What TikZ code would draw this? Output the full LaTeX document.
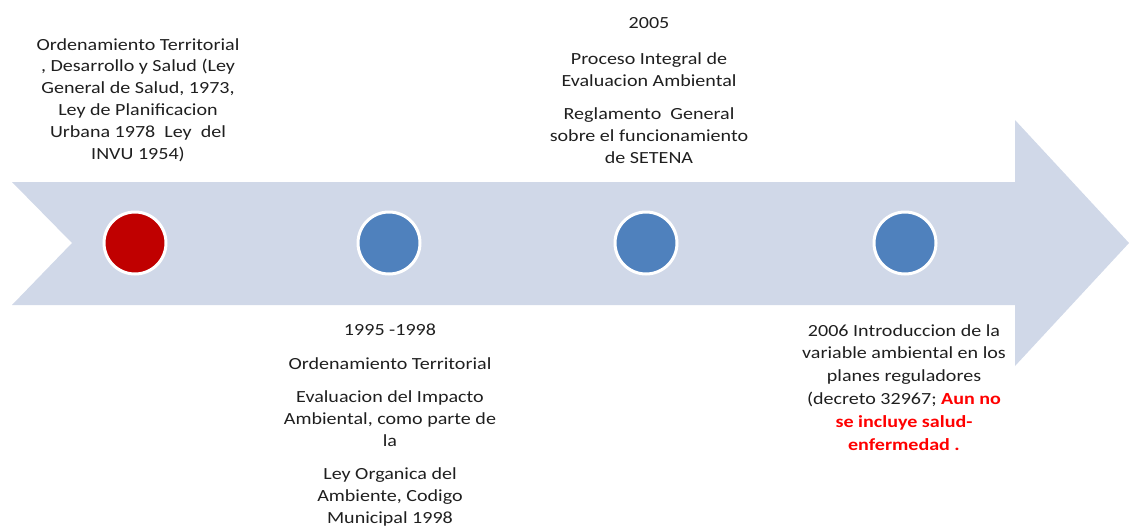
\documentclass[tikz,border=0pt]{standalone}
\usepackage{fontspec}
\setmainfont{Carlito}[FakeStretch=1.18]
\begin{document}
\begin{tikzpicture}[x=1pt,y=-1pt,
  txt/.style={align=center,inner sep=0pt,anchor=north,text=black!88,font=\fontsize{17}{21.9}\selectfont},
  dot/.style={circle,minimum size=62pt,inner sep=0pt,draw=white,line width=3pt},
  redtxt/.style={text=red}]
\useasboundingbox (0,0) rectangle (1129,530);
\fill[fill={rgb,255:red,208;green,216;blue,232}] (12,182) -- (1015,182) -- (1015,120) -- (1129,243) -- (1015,366) -- (1015,305) -- (12,305) -- (72,243) -- cycle;
\node[dot,fill={rgb,255:red,192;green,0;blue,0}] (c1) at (135,243) {};
\node[dot,fill={rgb,255:red,79;green,129;blue,189}] (c2) at (389,243) {};
\node[dot,fill={rgb,255:red,79;green,129;blue,189}] (c3) at (646,243) {};
\node[dot,fill={rgb,255:red,79;green,129;blue,189}] (c4) at (905,243) {};
\node[txt] (t1) at (138,38) {Ordenamiento Territorial\\, Desarrollo y Salud (Ley\\General de Salud, 1973,\\Ley de Planificacion\\Urbana 1978\ \ Ley\ \ del\\INVU 1954)};
\node[txt] (t3) at (649,17) {2005\\[14pt]Proceso Integral de\\Evaluacion Ambiental\\[12pt]Reglamento\ \ General\\sobre el funcionamiento\\de SETENA};
\node[txt] (t2) at (390,324) {1995 -1998\\[12pt]Ordenamiento Territorial\\[11pt]Evaluacion del Impacto\\Ambiental, como parte de\\la\\[11pt]Ley Organica del\\Ambiente, Codigo\\Municipal 1998};
\node[txt,font=\fontsize{17}{22.8}\selectfont] (t4) at (904,324) {2006 Introduccion de la\\variable ambiental en los\\planes reguladores\\(decreto 32967; \textcolor{red}{\bfseries Aun no}\\\textcolor{red}{\bfseries se incluye salud-}\\\textcolor{red}{\bfseries enfermedad .}};
\end{tikzpicture}
\end{document}
